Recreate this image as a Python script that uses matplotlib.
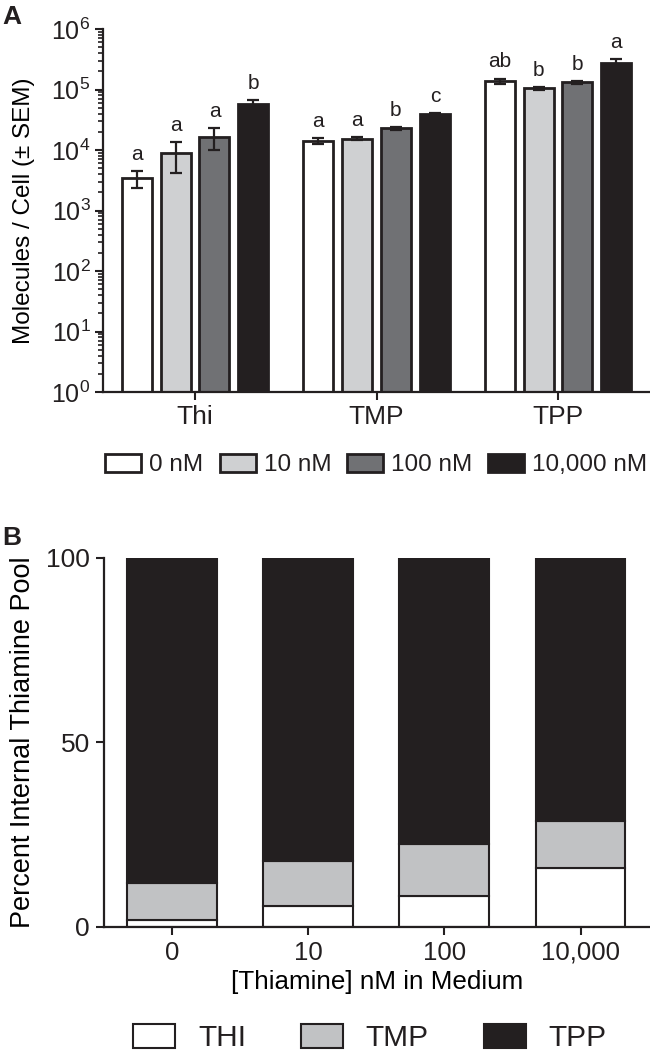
import numpy as np
import matplotlib
matplotlib.use("Agg")
import matplotlib.pyplot as plt

# panel A: molecules per cell (log scale)
forms = ["Thi", "TMP", "TPP"]
doses = ["0 nM", "10 nM", "100 nM", "10,000 nM"]
mean_0 = [3450, 14300, 138000]
mean_10 = [8800, 15400, 105000]
mean_100 = [16500, 22800, 131000]
mean_10000 = [57500, 39400, 277000]
sem_0 = [1100, 1600, 14000]
sem_10 = [4600, 1000, 5000]
sem_100 = [6500, 1500, 6000]
sem_10000 = [9000, 1000, 40000]
letters_0 = ["a", "a", "ab"]
letters_10 = ["a", "a", "b"]
letters_100 = ["a", "b", "b"]
letters_10000 = ["b", "c", "a"]

# panel B: percent of internal thiamine pool
conc_labels = ["0", "10", "100", "10,000"]
pct_thi = [1.9, 5.6, 8.4, 16.0]
pct_tmp = [10.1, 12.2, 14.0, 12.6]
pct_tpp = [88.0, 82.2, 77.6, 71.4]

INK = "#231f20"


def main():
    plt.rcParams["font.family"] = ["Liberation Sans", "DejaVu Sans"]
    plt.rcParams["mathtext.fontset"] = "custom"
    plt.rcParams["mathtext.rm"] = "Liberation Sans"
    plt.rcParams["mathtext.it"] = "Liberation Sans:italic"
    plt.rcParams["mathtext.bf"] = "Liberation Sans:bold"
    plt.rcParams["text.color"] = INK
    plt.rcParams["axes.edgecolor"] = INK
    plt.rcParams["xtick.color"] = INK
    plt.rcParams["ytick.color"] = INK

    fig = plt.figure(figsize=(6.5, 10.61), dpi=100)

    # ---------------- panel A ----------------
    ax = fig.add_axes([0.1585, 0.6305, 0.8415, 0.3421])
    x = np.arange(len(forms))
    means = [mean_0, mean_10, mean_100, mean_10000]
    sems = [sem_0, sem_10, sem_100, sem_10000]
    letters = [letters_0, letters_10, letters_100, letters_10000]
    colors = ["white", "#cfd0d2", "#707174", INK]
    offsets = [-0.322, -0.107, 0.107, 0.322]

    for i in range(4):
        xs = x + offsets[i]
        ax.bar(xs, means[i], width=0.165, bottom=1, color=colors[i],
               edgecolor=INK, linewidth=2.0, label=doses[i], zorder=2)
        ax.errorbar(xs, means[i], yerr=sems[i], fmt="none", ecolor=INK,
                    elinewidth=1.6, capsize=4.5, capthick=1.6, zorder=3)
        for xi, m, s, lab in zip(xs, means[i], sems[i], letters[i]):
            ax.annotate(lab, (xi, m + s), xytext=(0, 8), textcoords="offset points",
                        ha="center", va="baseline", fontsize=15)

    ax.set_yscale("log")
    ax.set_ylim(1, 1e6)
    ax.set_xlim(-0.507, 2.507)
    ax.set_xticks(x)
    ax.set_xticklabels(forms, fontsize=19)
    ax.set_yticks([10.0 ** k for k in range(7)])
    ax.set_yticklabels([f"$10^{{{k}}}$" for k in range(7)], fontsize=18)
    ax.yaxis.set_minor_locator(matplotlib.ticker.LogLocator(base=10, subs=np.arange(2, 10)))
    ax.yaxis.set_minor_formatter(matplotlib.ticker.NullFormatter())
    ax.tick_params(axis="both", which="major", length=6, width=1.5, pad=3)
    ax.tick_params(axis="y", which="minor", length=3.5, width=1.2)
    ax.tick_params(axis="x", which="minor", bottom=False)
    for side in ["top", "right"]:
        ax.spines[side].set_visible(False)
    for side in ["left", "bottom"]:
        ax.spines[side].set_linewidth(1.6)
    ax.set_ylabel("Molecules / Cell (± SEM)", fontsize=17.5)
    ax.yaxis.set_label_coords(-0.124, 0.5)

    fig.legend(*ax.get_legend_handles_labels(), loc="center",
               bbox_to_anchor=(376.5 / 650, 1 - 465 / 1061), ncol=4, frameon=False,
               fontsize=17.5, handlelength=1.48, handleheight=0.82,
               handletextpad=0.33, columnspacing=0.66, borderpad=0)

    fig.text(0.003, 1 - 17 / 1061, "A", fontsize=19, fontweight="bold", va="center")

    # ---------------- panel B ----------------
    bx = fig.add_axes([0.16, 0.1263, 0.84, 0.3478])
    xb = np.arange(len(conc_labels))
    thi = np.array(pct_thi)
    tmp = np.array(pct_tmp)
    tpp = np.array(pct_tpp)
    bx.bar(xb, thi, width=0.66, color="white", edgecolor=INK, linewidth=1.5, label="THI")
    bx.bar(xb, tmp, width=0.66, bottom=thi, color="#c1c2c4", edgecolor=INK,
           linewidth=1.5, label="TMP")
    bx.bar(xb, tpp, width=0.66, bottom=thi + tmp, color=INK, edgecolor=INK,
           linewidth=1.5, label="TPP")

    bx.set_ylim(0, 100)
    bx.set_xlim(-0.5, 3.51)
    bx.set_yticks([0, 50, 100])
    bx.set_yticklabels(["0", "50", "100"], fontsize=19)
    bx.set_xticks(xb)
    bx.set_xticklabels(conc_labels, fontsize=18.5)
    bx.tick_params(axis="both", length=6, width=1.5, pad=4)
    for side in ["top", "right"]:
        bx.spines[side].set_visible(False)
    for side in ["left", "bottom"]:
        bx.spines[side].set_linewidth(1.6)
    bx.set_ylabel("Percent Internal Thiamine Pool", fontsize=19.5)
    bx.yaxis.set_label_coords(-0.1245, 0.5)
    bx.set_xlabel("[Thiamine] nM in Medium", fontsize=18.7, labelpad=4)

    fig.legend(*bx.get_legend_handles_labels(), loc="center",
               bbox_to_anchor=(370 / 650, 1 - 1038 / 1061), ncol=3, frameon=False,
               fontsize=21.5, handlelength=1.4, handleheight=0.84,
               handletextpad=0.77, columnspacing=1.84, borderpad=0)

    fig.text(0.003, 1 - 538 / 1061, "B", fontsize=19, fontweight="bold", va="center")

    fig.savefig("out.png", dpi=100)


if __name__ == "__main__":
    main()
